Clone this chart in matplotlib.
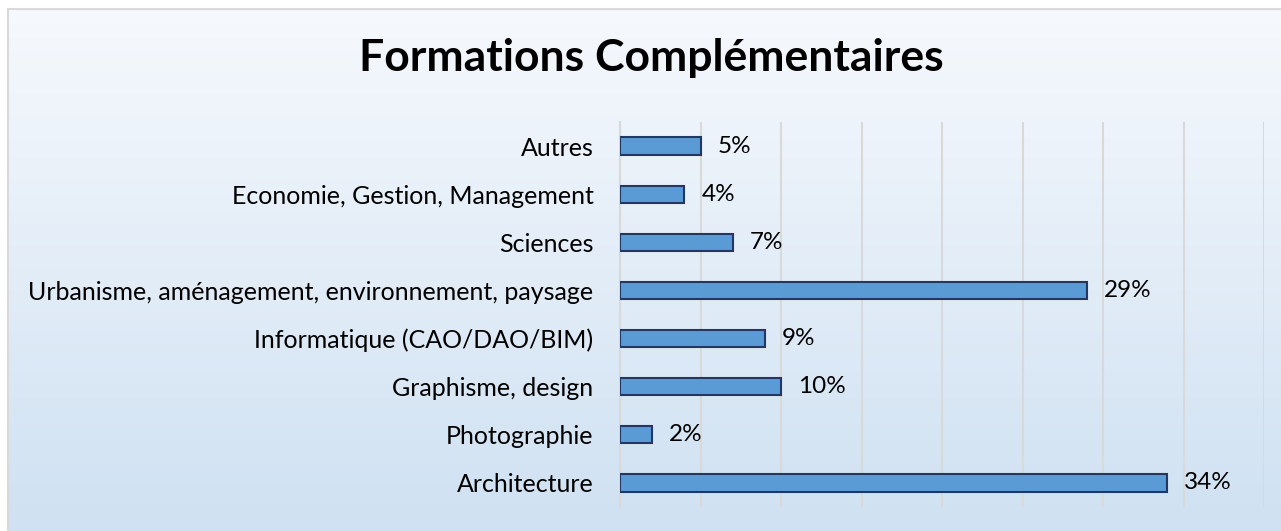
import numpy as np
import matplotlib.pyplot as plt
from matplotlib.patches import Rectangle

# données
categories = ["Architecture", "Photographie", "Graphisme, design",
              "Informatique (CAO/DAO/BIM)",
              "Urbanisme, aménagement, environnement, paysage",
              "Sciences", "Economie, Gestion, Management", "Autres"]
values = [34, 2, 10, 9, 29, 7, 4, 5]
labels = ["34%", "2%", "10%", "9%", "29%", "7%", "4%", "5%"]

plt.rcParams['font.family'] = ['Lato', 'DejaVu Sans']

fig = plt.figure(figsize=(12.81, 5.31), dpi=100)

# fond dégradé
bg = fig.add_axes([8/1281, 0, 1 - 8/1281, 1 - 9/531], zorder=-1)
grad = np.linspace(0, 1, 256).reshape(-1, 1)
top = np.array([0.965, 0.976, 0.992])
bot = np.array([0.812, 0.882, 0.949])
img = top + (bot - top) * grad[..., None]
bg.imshow(img, aspect='auto', extent=[0, 1, 0, 1])
bg.set_xlim(0, 1)
bg.set_ylim(0, 1)
bg.axis('off')
fig.patches.append(Rectangle((8/1281, -0.01), 1, 1 - 9/531 + 0.01, transform=fig.transFigure,
                             fill=False, edgecolor='#d9d9d9', linewidth=1.5))

ax = fig.add_axes([620/1281, 24/531, 644/1281, 385/531])
ax.patch.set_alpha(0)
y = np.arange(len(categories))
ax.barh(y, values, height=0.36, color='#5b9bd5', edgecolor='#1f3864', linewidth=1.5, zorder=3)
for yi, v, t in zip(y, values, labels):
    ax.text(v + 1.05, yi, t, va='center', ha='left', fontsize=17.5, color='#000000')

ax.set_xlim(0, 40)
ax.set_ylim(-0.5, len(categories) - 0.5)
ax.set_xticks(np.arange(0, 41, 5))
ax.set_xticklabels([])
ax.set_yticks(y)
ax.set_yticklabels(categories, fontsize=18)
ax.tick_params(axis='both', length=0, pad=19)
ax.grid(axis='x', color='#d9d9d9', linewidth=1.5, zorder=0)
for s in ['top', 'right', 'bottom']:
    ax.spines[s].set_visible(False)
ax.spines['left'].set_color('#d9d9d9')
ax.spines['left'].set_linewidth(1.5)

fig.text(651/1281, 1 - 58/531, "Formations Complémentaires", ha='center', va='center',
         fontsize=32, fontweight='bold')

plt.savefig("out.png", dpi=100)
